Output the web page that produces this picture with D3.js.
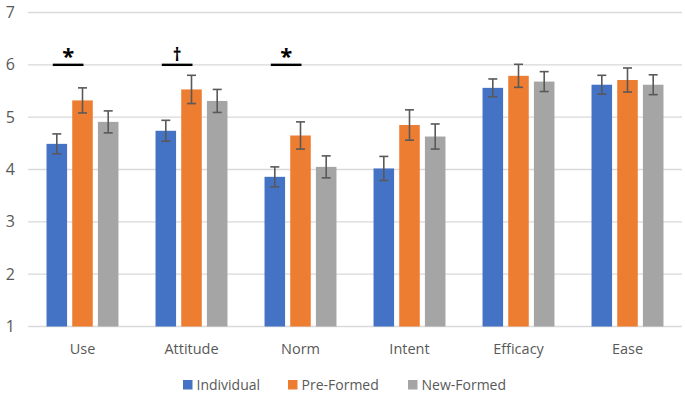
<!DOCTYPE html>
<html>
<head>
<meta charset="utf-8">
<script src="https://cdn.jsdelivr.net/npm/d3@7"></script>
<style>
  html, body { margin: 0; padding: 0; background: #fff; }
  svg { display: block; font-family: "Open Sans", "Liberation Sans", sans-serif; }
</style>
</head>
<body>
<div id="chart"></div>
<script>
const categories = ['Use', 'Attitude', 'Norm', 'Intent', 'Efficacy', 'Ease'];
const seriesNames = ['Individual', 'Pre-Formed', 'New-Formed'];
const COLORS = ['#4472c4', '#ed7d31', '#a5a5a5'];

// means per group, in category order
const individual = [4.49, 4.74, 3.86, 4.02, 5.56, 5.62];
const preFormed  = [5.32, 5.53, 4.65, 4.85, 5.79, 5.71];
const newFormed  = [4.91, 5.31, 4.05, 4.63, 5.68, 5.62];

// half-width of the error bars
const individualErr = [0.19, 0.20, 0.19, 0.23, 0.17, 0.18];
const preFormedErr  = [0.24, 0.27, 0.26, 0.29, 0.22, 0.23];
const newFormedErr  = [0.21, 0.22, 0.21, 0.24, 0.19, 0.19];

const yTicks = [1, 2, 3, 4, 5, 6, 7];

// significance brackets: category, marker
const sigCats  = ['Use', 'Attitude', 'Norm'];
const sigMarks = ['*', '\u2020', '*'];
const sigLevel = 6;

const W = 685, H = 398;
const M = { top: 12.5, right: 3, bottom: 71.5, left: 28 };

const svg = d3.select('#chart').append('svg')
  .attr('width', W).attr('height', H);

const x0 = d3.scaleBand().domain(categories)
  .range([M.left, W - M.right]).paddingInner(0.34).paddingOuter(0.17);
const x1 = d3.scaleBand().domain(seriesNames)
  .range([0, x0.bandwidth()]).paddingInner(0.2);
const y = d3.scaleLinear().domain([1, 7]).range([H - M.bottom, M.top]);

// ── Gridlines ─────────────────────────────────────────────
svg.append('g')
  .selectAll('line')
  .data(yTicks)
  .join('line')
  .attr('x1', M.left).attr('x2', W - M.right)
  .attr('y1', d => y(d)).attr('y2', d => y(d))
  .attr('stroke', '#d9d9d9').attr('stroke-width', 1.3);

// ── Y axis labels ─────────────────────────────────────────
const yAxis = svg.append('g')
  .attr('transform', `translate(15,0)`)
  .call(d3.axisLeft(y).tickValues(yTicks).tickFormat(d3.format('d')).tickSize(0).tickPadding(0));
yAxis.select('.domain').remove();
yAxis.selectAll('text')
  .attr('font-size', 16).attr('fill', '#595959')
  .attr('font-family', '"Open Sans", sans-serif');

// ── Bars ──────────────────────────────────────────────────
const rows = categories.map((c, i) => ({
  cat: c,
  vals: [
    { s: seriesNames[0], v: individual[i], e: individualErr[i], k: 0 },
    { s: seriesNames[1], v: preFormed[i],  e: preFormedErr[i],  k: 1 },
    { s: seriesNames[2], v: newFormed[i],  e: newFormedErr[i],  k: 2 },
  ],
}));

const groups = svg.append('g').selectAll('g')
  .data(rows)
  .join('g')
  .attr('transform', d => `translate(${x0(d.cat)},0)`);

groups.selectAll('rect')
  .data(d => d.vals)
  .join('rect')
  .attr('x', d => x1(d.s))
  .attr('width', x1.bandwidth())
  .attr('y', d => y(d.v))
  .attr('height', d => y(1) - y(d.v))
  .attr('fill', d => COLORS[d.k]);

// ── Error bars ────────────────────────────────────────────
const eb = groups.selectAll('g.err')
  .data(d => d.vals)
  .join('g')
  .attr('class', 'err')
  .attr('stroke', '#595959')
  .attr('stroke-width', 1.6);
const cx = d => x1(d.s) + x1.bandwidth() / 2;
eb.append('line')
  .attr('x1', cx).attr('x2', cx)
  .attr('y1', d => y(d.v + d.e)).attr('y2', d => y(d.v - d.e));
eb.append('line')
  .attr('x1', d => cx(d) - 4.5).attr('x2', d => cx(d) + 4.5)
  .attr('y1', d => y(d.v + d.e)).attr('y2', d => y(d.v + d.e));
eb.append('line')
  .attr('x1', d => cx(d) - 4.5).attr('x2', d => cx(d) + 4.5)
  .attr('y1', d => y(d.v - d.e)).attr('y2', d => y(d.v - d.e));

// ── Significance markers ──────────────────────────────────
const sig = svg.append('g').selectAll('g')
  .data(sigCats.map((c, i) => ({ c, m: sigMarks[i] })))
  .join('g')
  .attr('transform', d => `translate(${x0(d.c)},0)`);
const sx1 = x1(seriesNames[0]) + x1.bandwidth() / 2 - 4;
const sx2 = x1(seriesNames[1]) + x1.bandwidth() / 2 + 1;
sig.append('line')
  .attr('x1', sx1).attr('x2', sx2)
  .attr('y1', y(sigLevel)).attr('y2', y(sigLevel))
  .attr('stroke', '#000').attr('stroke-width', 2.4);
sig.append('text')
  .attr('x', (sx1 + sx2) / 2)
  .attr('y', d => d.m === '*' ? y(sigLevel) - 1 : y(sigLevel) - 4)
  .attr('text-anchor', 'middle')
  .attr('font-size', d => d.m === '*' ? 22 : 17)
  .attr('font-weight', 'bold')
  .attr('fill', '#000')
  .text(d => d.m);

// ── X axis labels ─────────────────────────────────────────
svg.append('g').selectAll('text')
  .data(categories)
  .join('text')
  .attr('x', d => x0(d) + x0.bandwidth() / 2)
  .attr('y', 354)
  .attr('text-anchor', 'middle')
  .attr('font-size', 14.5)
  .attr('fill', '#595959')
  .text(d => d);

// ── Legend ────────────────────────────────────────────────
const legendX = [183, 288, 408];
const lg = svg.append('g').selectAll('g')
  .data(seriesNames)
  .join('g')
  .attr('transform', (d, i) => `translate(${legendX[i]},380)`);
lg.append('rect')
  .attr('width', 9.5).attr('height', 9.5)
  .attr('fill', (d, i) => COLORS[i]);
lg.append('text')
  .attr('x', 13.5).attr('y', 9.5)
  .attr('font-size', 14)
  .attr('fill', '#595959')
  .text(d => d);
</script>
</body>
</html>
